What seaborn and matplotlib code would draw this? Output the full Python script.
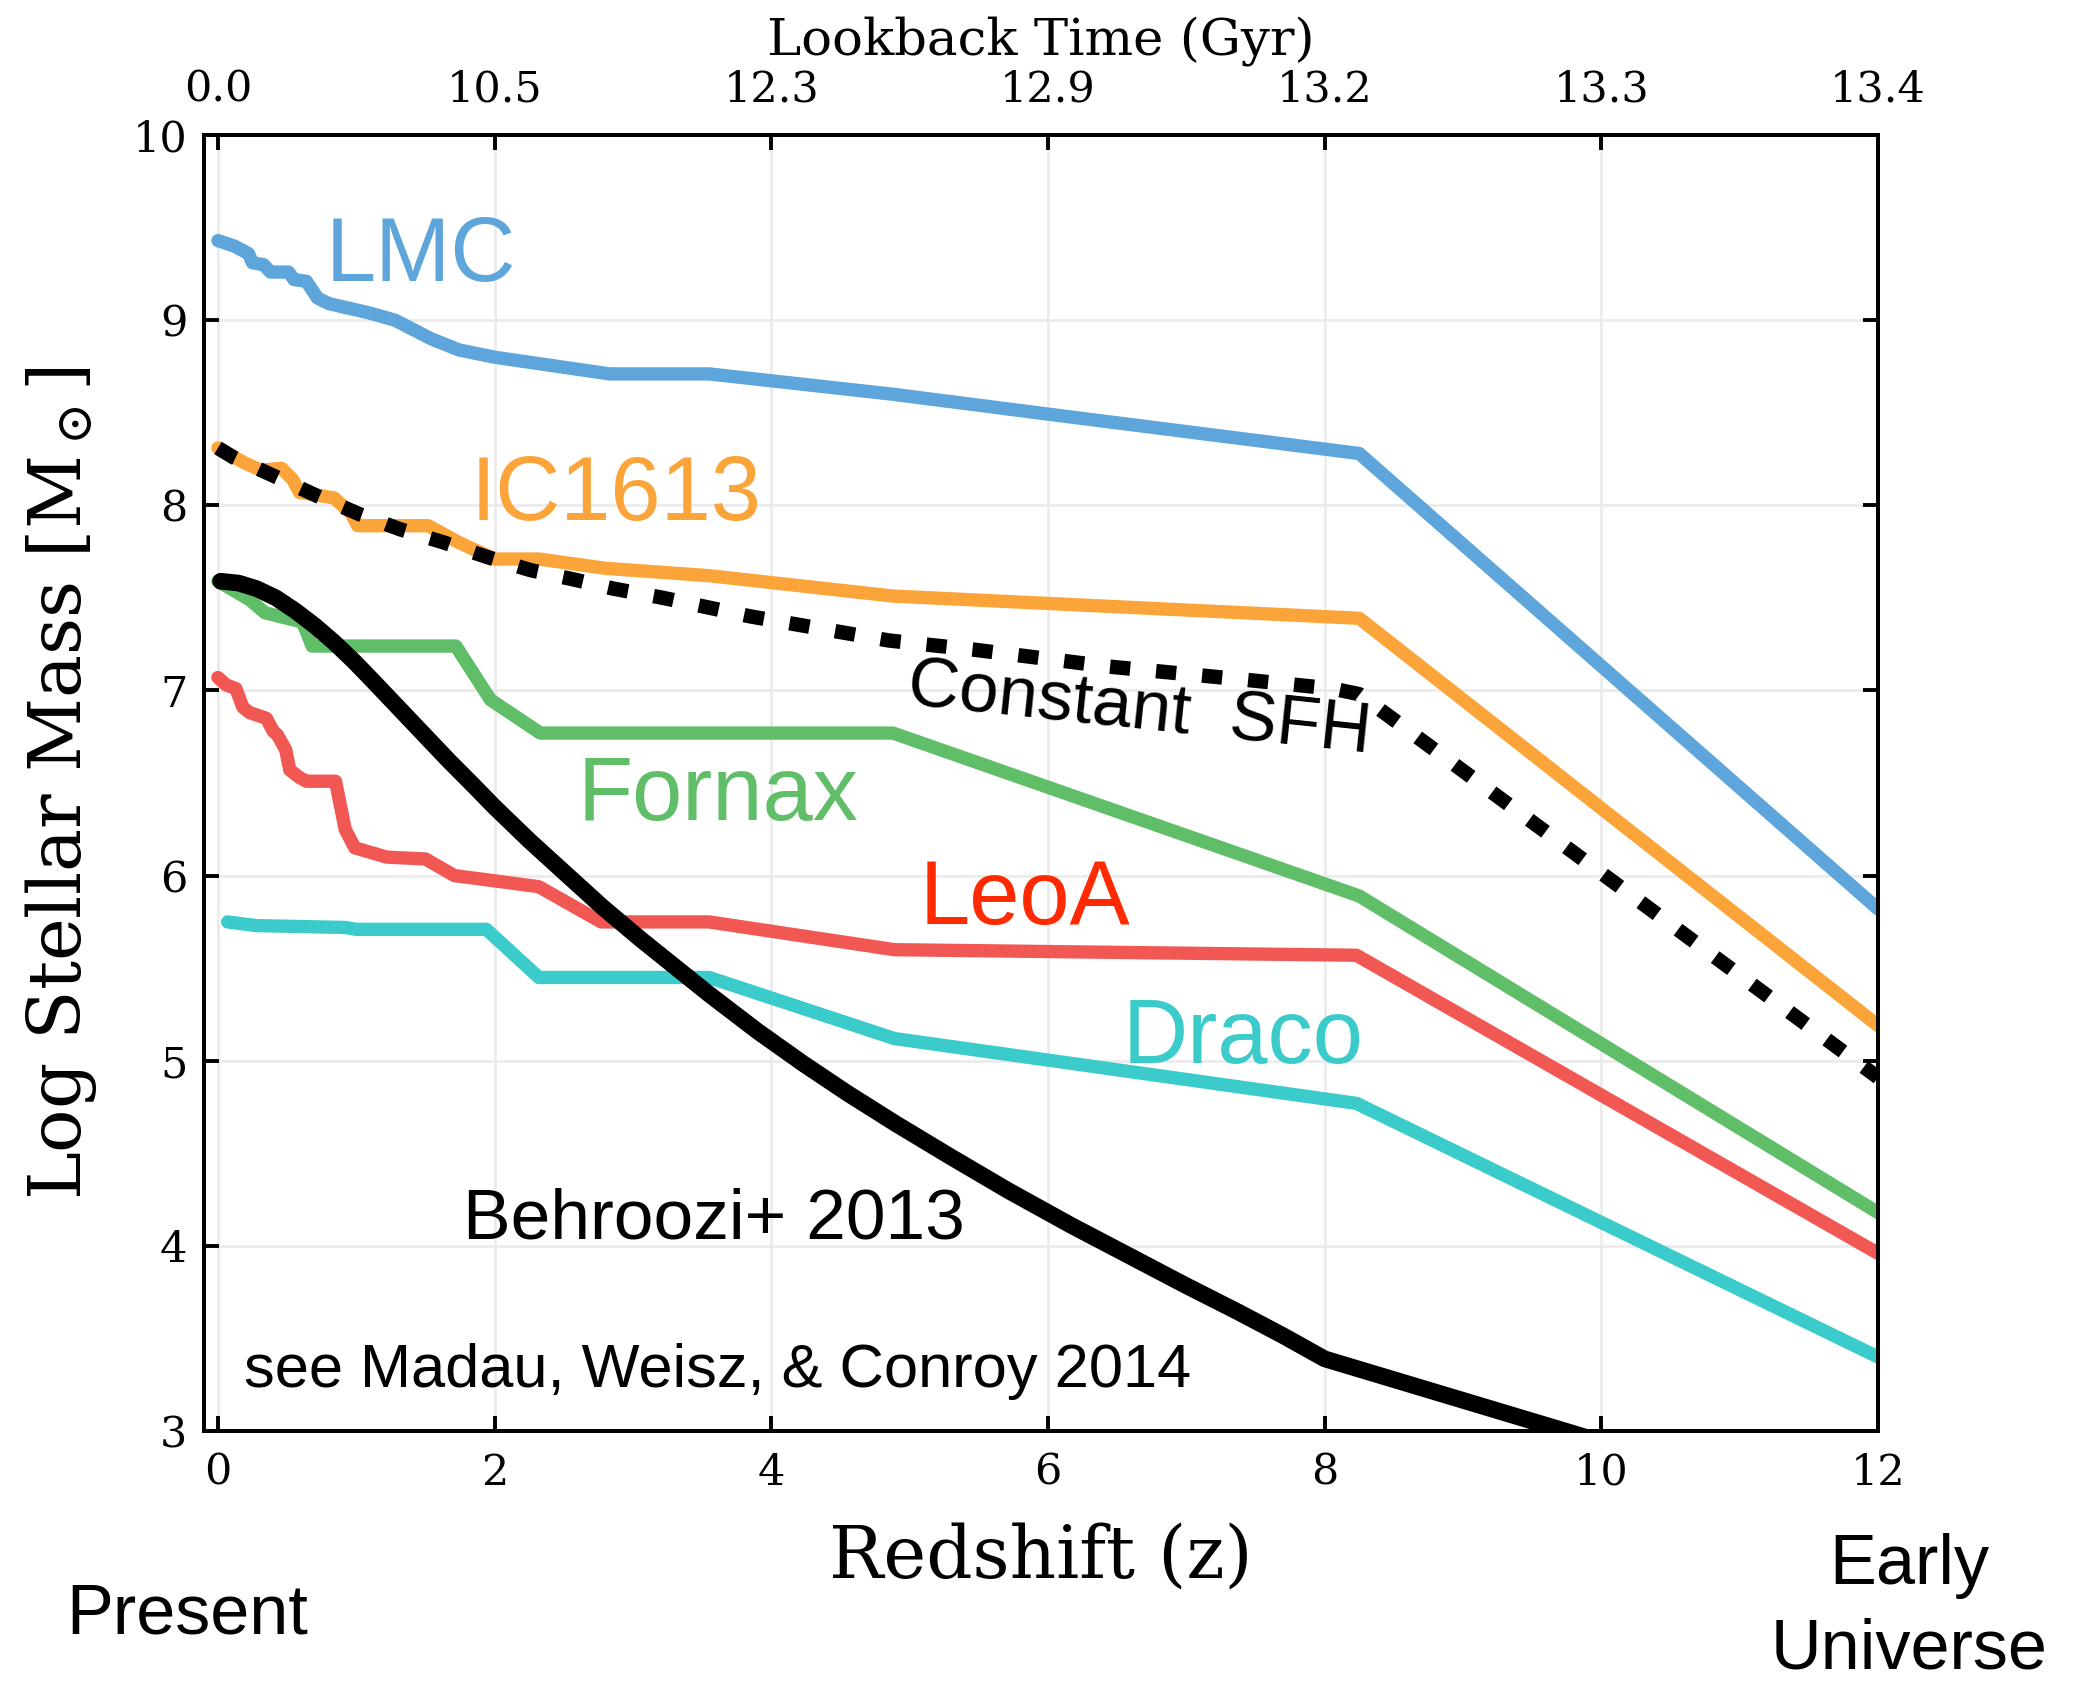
import numpy as np
import pandas as pd
import matplotlib
matplotlib.use("Agg")
import matplotlib.pyplot as plt
import seaborn as sns

# ---------------- data ----------------
lmc_z = [0.0, 0.12, 0.22, 0.25, 0.33, 0.38, 0.51, 0.55, 0.64, 0.72, 0.80, 1.09, 1.28,
         1.54, 1.74, 2.0, 2.83, 3.55, 4.88, 6.03, 8.25, 12.0]
lmc_m = [9.43, 9.40, 9.36, 9.31, 9.30, 9.26, 9.26, 9.22, 9.21, 9.12, 9.09, 9.04, 9.00,
         8.90, 8.84, 8.80, 8.71, 8.71, 8.60, 8.49, 8.28, 5.82]

ic_z = [0.0, 0.19, 0.31, 0.46, 0.54, 0.59, 0.84, 0.96, 1.01, 1.52, 1.74, 2.0, 2.32,
        2.8, 3.55, 4.88, 8.25, 12.0]
ic_m = [8.31, 8.23, 8.19, 8.20, 8.14, 8.07, 8.04, 7.96, 7.89, 7.89, 7.80, 7.71, 7.71,
        7.66, 7.62, 7.51, 7.39, 5.19]

csfh_z = [0.0, 0.11, 0.43, 0.72, 1.03, 1.32, 1.63, 1.95, 2.26, 2.57, 2.86, 3.22, 3.85,
          4.85, 5.47, 6.43, 7.40, 8.06, 8.25, 12.0]
csfh_m = [8.31, 8.26, 8.15, 8.05, 7.95, 7.87, 7.80, 7.72, 7.65, 7.60, 7.55, 7.50, 7.40,
          7.27, 7.22, 7.13, 7.06, 7.01, 6.98, 4.91]

fnx_z = [0.0, 0.23, 0.34, 0.50, 0.61, 0.65, 0.68, 1.72, 1.97, 2.33, 4.88, 8.25, 12.0]
fnx_m = [7.59, 7.49, 7.42, 7.39, 7.37, 7.30, 7.24, 7.24, 6.95, 6.77, 6.77, 5.89, 4.18]

leoa_z = [0.0, 0.06, 0.13, 0.18, 0.23, 0.35, 0.40, 0.43, 0.49, 0.52, 0.59, 0.64, 0.85,
          0.92, 0.99, 1.22, 1.50, 1.71, 2.02, 2.32, 2.77, 3.55, 4.89, 8.23, 12.0]
leoa_m = [7.07, 7.03, 7.01, 6.91, 6.88, 6.85, 6.78, 6.76, 6.68, 6.57, 6.53, 6.51, 6.51,
          6.25, 6.15, 6.10, 6.09, 6.00, 5.97, 5.94, 5.75, 5.75, 5.60, 5.57, 3.96]

dra_z = [0.07, 0.28, 0.92, 1.0, 1.94, 2.32, 3.55, 4.89, 8.23, 12.0]
dra_m = [5.75, 5.73, 5.72, 5.71, 5.71, 5.45, 5.45, 5.12, 4.77, 3.40]

beh_z = [0.02, 0.15, 0.28, 0.42, 0.56, 0.70, 0.84, 0.98, 1.11, 1.25, 1.39, 1.53, 1.67,
         1.83, 2.0, 2.25, 2.5, 2.78, 3.05, 3.30, 3.55, 3.90, 4.23, 4.55, 4.90, 5.30,
         5.71, 6.17, 6.63, 7.00, 7.37, 7.70, 8.0, 9.74, 12.0]
beh_m = [7.59, 7.58, 7.55, 7.50, 7.43, 7.35, 7.26, 7.16, 7.06, 6.95, 6.84, 6.73, 6.62,
         6.50, 6.37, 6.19, 6.02, 5.83, 5.66, 5.51, 5.36, 5.16, 4.985, 4.825, 4.66, 4.48,
         4.30, 4.11, 3.93, 3.785, 3.645, 3.515, 3.39, 3.0, 2.49]

z_ticks = [0, 2, 4, 6, 8, 10, 12]
lookback_labels = ["0.0", "10.5", "12.3", "12.9", "13.2", "13.3", "13.4"]
mass_ticks = [3, 4, 5, 6, 7, 8, 9, 10]

# ---------------- style ----------------
sns.set_style("ticks")
plt.rcParams["font.family"] = ["DejaVu Serif"]
plt.rcParams["mathtext.fontset"] = "dejavuserif"
for k in ["text.color", "axes.labelcolor", "axes.edgecolor", "xtick.color", "ytick.color"]:
    plt.rcParams[k] = "black"

SANS = ["Liberation Sans", "DejaVu Sans"]
C_LMC = "#5DA5DA"
C_IC = "#FAA43A"
C_FNX = "#60BD68"
C_LEO = "#F15854"
C_DRA = "#3CCBCB"

fig = plt.figure(figsize=(10.37, 8.42), dpi=200)
ax = fig.add_axes([0.0984, 0.1502, 0.8071, 0.7696])

lw = 4.8
common = dict(estimator=None, sort=False, ax=ax, solid_capstyle="round",
              solid_joinstyle="round")
sns.lineplot(x=lmc_z, y=lmc_m, color=C_LMC, lw=lw, **common)
sns.lineplot(x=ic_z, y=ic_m, color=C_IC, lw=lw, **common)
sns.lineplot(x=fnx_z, y=fnx_m, color=C_FNX, lw=lw, **common)
sns.lineplot(x=leoa_z, y=leoa_m, color=C_LEO, lw=lw, **common)
sns.lineplot(x=dra_z, y=dra_m, color=C_DRA, lw=lw, **common)
sns.lineplot(x=csfh_z, y=csfh_m, estimator=None, sort=False, ax=ax, color="black",
             lw=5.2, linestyle=(0, (1.4, 1.8)))
sns.lineplot(x=beh_z, y=beh_m, color="black", lw=6.0, **common)

ax.set_xlim(-0.1, 12)
ax.set_ylim(3, 10)
ax.set_xticks(z_ticks)
ax.set_xticklabels([str(t) for t in z_ticks])
ax.set_yticks(mass_ticks)
ax.set_yticklabels([str(t) for t in mass_ticks])
ax.grid(True, color="#ebebeb", lw=1.0)
ax.set_axisbelow(True)
ax.tick_params(axis="both", direction="in", length=5.5, width=1.4, labelsize=15.5,
               colors="black", right=True, top=False)
ax.tick_params(axis="x", pad=7.5)
ax.tick_params(axis="y", pad=6)
for s in ax.spines.values():
    s.set_linewidth(1.4)
    s.set_color("black")

ax.set_xlabel("Redshift (z)", fontsize=26, labelpad=10, color="black")
ax.set_ylabel(r"Log Stellar Mass [M$_\odot$]", fontsize=26, labelpad=12, color="black")

ax2 = ax.twiny()
ax2.set_xlim(ax.get_xlim())
ax2.set_xticks(z_ticks)
ax2.set_xticklabels(lookback_labels)
ax2.tick_params(axis="x", direction="in", length=5.5, width=1.4, labelsize=15.5, pad=9,
                colors="black")
ax2.set_xlabel("Lookback Time (Gyr)", fontsize=18.5, labelpad=5, color="black")
for s in ax2.spines.values():
    s.set_linewidth(1.4)
    s.set_color("black")

# ---------------- annotations ----------------
lab = dict(fontsize=32.5, family=SANS, ha="left", va="baseline")
ax.text(0.78, 9.21, "LMC", color=C_LMC, **lab)
ax.text(1.83, 7.92, "IC1613", color=C_IC, **lab)
ax.text(2.60, 6.30, "Fornax", color=C_FNX, **lab)
ax.text(5.07, 5.74, "LeoA", color="#FF2A00", **lab)
ax.text(6.54, 4.99, "Draco", color=C_DRA, **lab)
ax.text(6.66, 6.89, "Constant  SFH", fontsize=25.5, family=SANS, color="black",
        ha="center", va="center", rotation=-6, rotation_mode="anchor")
ax.text(1.77, 4.04, "Behroozi+ 2013", fontsize=25.7, family=SANS, color="black",
        ha="left", va="baseline")
ax.text(0.19, 3.24, "see Madau, Weisz, & Conroy 2014", fontsize=22.1, family=SANS,
        color="black", ha="left", va="baseline")

fig.text(0.032, 0.030, "Present", fontsize=25.3, family=SANS, ha="left", va="baseline",
         color="black")
fig.text(0.9207, 0.0595, "Early", fontsize=25.3, family=SANS, ha="center", va="baseline",
         color="black")
fig.text(0.9207, 0.0095, "Universe", fontsize=25.3, family=SANS, ha="center",
         va="baseline", color="black")

fig.savefig("out.png", dpi=200)
